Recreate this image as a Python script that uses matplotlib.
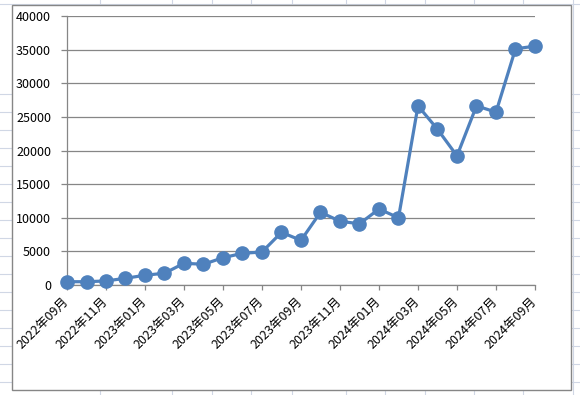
import matplotlib
matplotlib.use("Agg")
import matplotlib.pyplot as plt
from matplotlib.lines import Line2D
from matplotlib.patches import Rectangle

plt.rcParams['font.family'] = ['Noto Sans CJK JP', 'DejaVu Sans']

# data (monthly, 2022-09 .. 2024-09)
months = ['2022年09月', '2022年10月', '2022年11月', '2022年12月',
          '2023年01月', '2023年02月', '2023年03月', '2023年04月',
          '2023年05月', '2023年06月', '2023年07月', '2023年08月',
          '2023年09月', '2023年10月', '2023年11月', '2023年12月',
          '2024年01月', '2024年02月', '2024年03月', '2024年04月',
          '2024年05月', '2024年06月', '2024年07月', '2024年08月',
          '2024年09月']
values = [490, 490, 600, 1000, 1450, 1750, 3230, 3080, 4060, 4710,
          4910, 7830, 6640, 10820, 9480, 9100, 11300, 10000, 26640,
          23160, 19200, 26640, 25700, 35120, 35520]
yticks = [0, 5000, 10000, 15000, 20000, 25000, 30000, 35000, 40000]

W, H = 580, 395
fig = plt.figure(figsize=(W / 100, H / 100), dpi=100)

# spreadsheet cells behind the chart
cell = '#d0d7e5'
col_x = [100, 172, 212, 251, 292, 346, 385, 425, 474, 523, 573]
row_y = [4] + list(range(94, 395, 18))
for x in col_x:
    fig.add_artist(Line2D([x / W, x / W], [0, 1], color=cell, lw=0.8,
                          zorder=-3))
for y in row_y:
    fig.add_artist(Line2D([0, 1], [1 - y / H, 1 - y / H], color=cell,
                          lw=0.8, zorder=-3))

# chart area
fig.add_artist(Rectangle((12 / W, 1 - 390 / H), 559 / W, 385 / H,
                         facecolor='white', edgecolor='#868686', lw=1.0,
                         zorder=-2))

ax = fig.add_axes([67 / W, 1 - 285 / H, 468 / W, 269 / H])
ax.set_facecolor('none')
x = list(range(len(months)))
ax.plot(x, values, color='#4f81bd', lw=2.3, marker='o', ms=9.5,
        clip_on=False, zorder=3)

ax.set_xlim(0, len(months) - 1)
ax.set_ylim(0, 40000)
ax.set_yticks(yticks)
ax.set_yticklabels([str(v) for v in yticks])
ax.set_xticks(x[::2])
ax.set_xticklabels(months[::2], rotation=45, ha='right', va='center',
                   rotation_mode='anchor')
ax.grid(axis='y', color='#868686', lw=0.9)
ax.set_axisbelow(True)
for s in ['top', 'right']:
    ax.spines[s].set_visible(False)
for s in ['left', 'bottom']:
    ax.spines[s].set_color('#868686')
    ax.spines[s].set_linewidth(0.9)
ax.tick_params(axis='y', length=4.5, width=0.9, color='#868686', pad=7,
               labelsize=9)
ax.tick_params(axis='x', length=3.5, width=0.9, color='#868686', pad=7,
               labelsize=9)

fig.savefig('out.png', dpi=100)
